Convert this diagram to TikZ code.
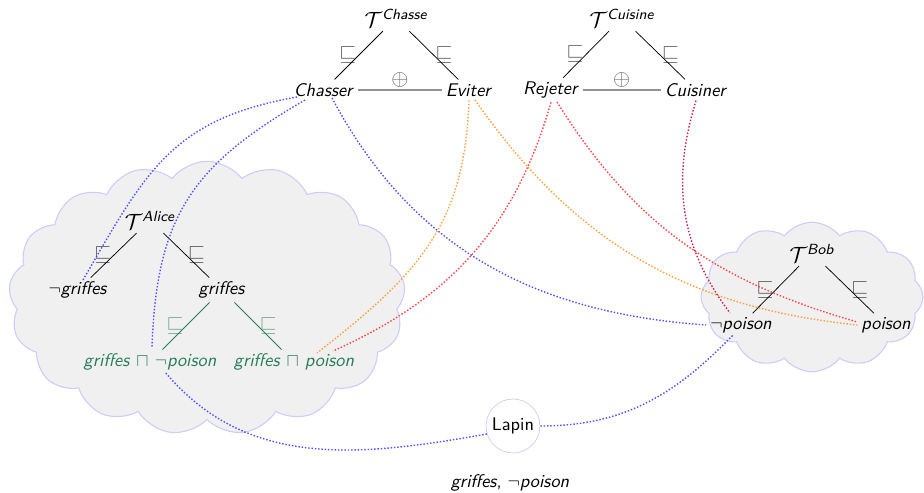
\documentclass[tikz,border=0pt]{standalone}
\usepackage{amsmath,amssymb}
\usetikzlibrary{shapes.symbols}
\renewcommand{\familydefault}{\sfdefault}
\definecolor{grn}{RGB}{40,125,90}
\definecolor{lav}{RGB}{205,205,250}
\definecolor{cloudfill}{RGB}{240,240,240}
\definecolor{crim}{RGB}{200,30,90}
\definecolor{lblue}{RGB}{80,80,255}
\definecolor{lorange}{RGB}{255,160,60}
\definecolor{lred}{RGB}{255,70,70}
\tikzset{
  txt/.style={font=\normalsize, inner sep=2pt},
  tnode/.style={font=\large, inner sep=2pt},
  rel/.style={opacity=0.6, inner sep=0pt, font=\large},
  lrel/.style={rel, midway, xshift=-6pt},
  rrel/.style={rel, midway, xshift=5.5pt},
  link/.style={line width=0.75pt, dash pattern=on 0.8pt off 1pt},
  cloudbox/.style={cloud, cloud puffs=17, cloud puff arc=105, cloud ignores aspect, draw=lav, fill=cloudfill, semithick, inner sep=0pt},
  oplusedge/.style={draw=gray!85, line width=0.9pt},
}
\begin{document}
\begin{tikzpicture}[x=0.545pt,y=0.545pt]
\useasboundingbox (0,0) rectangle (924,-492);
% clouds
\node[cloudbox, minimum width=216pt, minimum height=149pt] (alicecloud) at (207,-298) {};
\node[cloudbox, cloud puffs=12, minimum width=121pt, minimum height=81.5pt] (bobcloud) at (812,-297) {};
% top trees
\node[tnode] (tc) at (396,-18) {$\mathcal{T}^{\textit{Chasse}}$};
\node[txt] (chasser) at (324,-90) {\textit{Chasser}};
\node[txt] (eviter) at (469,-90) {\textit{Eviter}};
\node[tnode] (tk) at (622,-18) {$\mathcal{T}^{\textit{Cuisine}}$};
\node[txt] (rejeter) at (551,-90) {\textit{Rejeter}};
\node[txt] (cuisiner) at (696,-90) {\textit{Cuisiner}};
% Alice
\node[tnode] (ta) at (150,-220) {$\mathcal{T}^{\textit{Alice}}$};
\node[txt] (ng) at (78,-290) {$\neg$\textit{griffes}};
\node[txt] (g) at (222,-290) {\textit{griffes}};
\node[txt, text=grn] (gnp) at (150,-362) {\textit{griffes} $\sqcap$ $\neg$\textit{poison}};
\node[txt, text=grn] (gp) at (294,-362) {\textit{griffes} $\sqcap$ \textit{poison}};
% Bob
\node[tnode] (tb) at (812,-253) {$\mathcal{T}^{\textit{Bob}}$};
\node[txt] (np) at (741,-325) {$\neg$\textit{poison}};
\node[txt] (p) at (886,-325) {\textit{poison}};
% Lapin
\node[circle, draw=lav, fill=white, minimum size=29.4pt, inner sep=1pt] (lapin) at (513,-426) {Lapin};
\node[txt] (facts) at (510,-483) {\textit{griffes}, $\neg$\textit{poison}};
% tree edges
\draw (tc) -- (chasser) node[lrel] {$\sqsubseteq$};
\draw (tc) -- (eviter) node[rrel] {$\sqsubseteq$};
\draw[oplusedge] (chasser) -- (eviter) node[midway, above=1pt, rel] {$\oplus$};
\draw (tk) -- (rejeter) node[lrel] {$\sqsubseteq$};
\draw (tk) -- (cuisiner) node[rrel] {$\sqsubseteq$};
\draw[oplusedge] (rejeter) -- (cuisiner) node[midway, above=1pt, rel] {$\oplus$};
\draw (ta) -- (ng) node[lrel] {$\sqsubseteq$};
\draw (ta) -- (g) node[rrel] {$\sqsubseteq$};
\draw[grn] (g) -- (gnp) node[lrel, text=grn] {$\sqsubseteq$};
\draw[grn] (g) -- (gp) node[rrel, text=grn] {$\sqsubseteq$};
\draw (tb) -- (np) node[lrel] {$\sqsubseteq$};
\draw (tb) -- (p) node[rrel] {$\sqsubseteq$};
% links
\draw[link, lblue] ([shift={(-27,-7)}]chasser.center) to[out=190, in=60, looseness=1.15] ([shift={(5,10)}]ng.center);
\draw[link, lblue] ([shift={(-19,-10)}]chasser.center) to[out=210, in=88, looseness=1.15] ([shift={(2,15)}]gnp.center);
\draw[link, lblue] ([shift={(8,-8)}]chasser.center) to[out=-62, in=176] (np.west);
\draw[link, lblue] (lapin.197) to[out=190, in=-50] ([shift={(15,-10)}]gnp.center);
\draw[link, lblue] (lapin.east) to[out=0, in=-134] ([shift={(-8,-10)}]np.center);
\draw[link, lorange] (eviter.south) to[out=268, in=38, looseness=1.1] ([shift={(23,9)}]gp.center);
\draw[link, lred] (rejeter.south) to[out=254, in=24] ([shift={(39,11)}]gp.center);
\draw[link, lorange] ([shift={(6,-10)}]eviter.center) to[out=-55, in=174] (p.west);
\draw[link, lred] ([shift={(6,-12)}]rejeter.center) to[out=-58, in=164] ([shift={(0,3)}]p.west);
\draw[link, crim] (cuisiner.south) to[out=253, in=127] ([shift={(-11,12)}]np.center);
\end{tikzpicture}
\end{document}
